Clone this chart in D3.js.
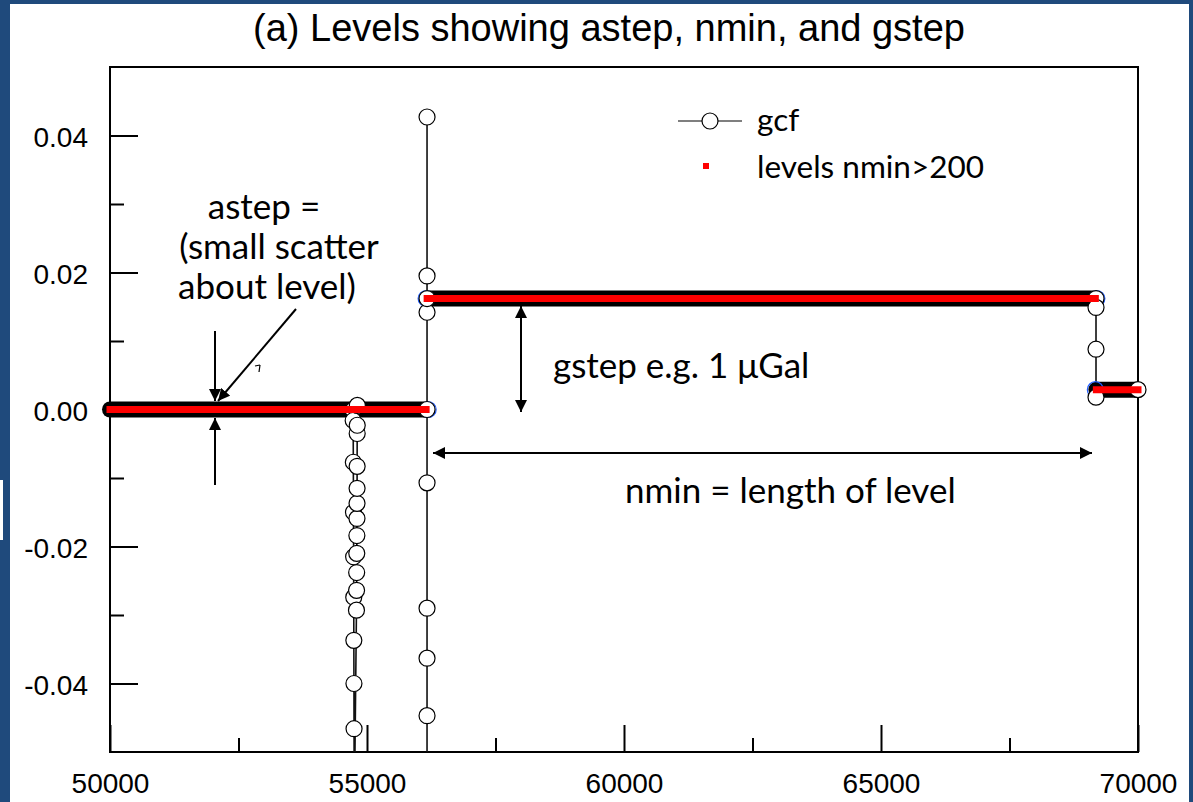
<!DOCTYPE html>
<html>
<head>
<meta charset="utf-8">
<script src="https://cdn.jsdelivr.net/npm/d3@7.9.0/dist/d3.min.js"></script>
<style>
  body { margin: 0; background: #fff; }
  svg { display: block; }
  .axis text { font-family: "Liberation Sans", Arial, sans-serif; font-size: 28px; fill: #000; }
  .note { font-family: Lato, "Open Sans", sans-serif; font-size: 35px; fill: #000; }
  .legend-text { font-family: Lato, "Open Sans", sans-serif; font-size: 31.5px; fill: #000; }
</style>
</head>
<body>
<svg id="chart" width="1193" height="802"></svg>
<script>
// ---- data ----
// gcf samples around the steps (the long flat parts are drawn as the dense band below)
const gcfX = [
  54728, 54731, 54734, 54737, 54740, 54742, 54744, 54746, 54748, 54752,
  54795, 54797, 54799, 54801, 54803, 54805, 54806, 54807, 54808, 54809, 54810, 54812,
  56168, 56168, 56168, 56168, 56168, 56168, 56168, 56168, 56168, 56168,
  69183, 69183, 69183, 69183,
  70000];
const gcfY = [
  -0.0001, -0.0016, -0.0077, -0.0150, -0.0215, -0.0274, -0.0337, -0.0400, -0.0466, -0.0600,
  -0.0293, -0.0264, -0.0238, -0.0210, -0.0184, -0.0159, -0.0137, -0.0115, -0.0083, -0.0035, -0.0023, 0.0006,
  0, -0.0107, -0.0290, -0.0363, -0.0447, -0.0620, 0.0427, 0.0195, 0.0142, 0.0162,
  0.0162, 0.0149, 0.0088, 0.0018,
  0.0029];

// levels found with nmin>200
const levelStart = [50000, 56170, 69190];
const levelEnd = [56150, 69170, 70000];
const levelValue = [0, 0.0162, 0.0029];

// level end points (blue markers peeking out at the steps)
const levelMarkX = [56190, 56150, 69200, 69170];
const levelMarkY = [0, 0.0162, 0.0162, 0.0029];

const xMajor = [50000, 55000, 60000, 65000, 70000];
const xMinor = [52500, 57500, 62500, 67500];
const yMajor = [-0.04, -0.02, 0, 0.02, 0.04];
const yMinor = [-0.03, -0.01, 0.01, 0.03];

const gcf = gcfX.map((x, i) => ({ x: x, y: gcfY[i] }));
const levels = levelStart.map((s, i) => ({ start: s, end: levelEnd[i], value: levelValue[i] }));

// ---- layout ----
const svg = d3.select("#chart");
const pLeft = 110, pRight = 1138, pTop = 67, pBottom = 752;

// blue slide frame
svg.append("rect").attr("x", 0).attr("y", 0).attr("width", 1193).attr("height", 4).attr("fill", "#1f4a7c");
svg.append("rect").attr("x", 0).attr("y", 0).attr("width", 10).attr("height", 802).attr("fill", "#1f4a7c");
svg.append("rect").attr("x", 1189).attr("y", 0).attr("width", 4).attr("height", 802).attr("fill", "#1f4a7c");
svg.append("rect").attr("x", 0).attr("y", 480).attr("width", 3).attr("height", 60).attr("fill", "#fff");

let x = d3.scaleLinear().domain([50000, 70000]).range([pLeft, pRight]);
let y = d3.scaleLinear().domain([-0.05, 0.05]).range([pBottom, pTop]);

svg.append("clipPath").attr("id", "plot-clip")
  .append("rect").attr("x", pLeft).attr("y", pTop).attr("width", pRight - pLeft).attr("height", pBottom - pTop);

// title
svg.append("text")
  .attr("x", 609).attr("y", 41)
  .attr("text-anchor", "middle")
  .attr("font-family", "Liberation Sans, Arial, sans-serif")
  .attr("font-size", 38)
  .text("(a) Levels showing astep, nmin, and gstep");

// axes (ticks point inward)
let xAxis = svg.append("g").attr("class", "axis").attr("transform", `translate(0,${pBottom})`)
  .call(d3.axisBottom(x).tickValues(xMajor).tickSize(-27).tickPadding(21).tickFormat(d3.format("d")));
let xAxisMinor = svg.append("g").attr("class", "axis").attr("transform", `translate(0,${pBottom})`)
  .call(d3.axisBottom(x).tickValues(xMinor).tickSize(-14).tickFormat(""));
let yAxis = svg.append("g").attr("class", "axis").attr("transform", `translate(${pLeft},0)`)
  .call(d3.axisLeft(y).tickValues(yMajor).tickSize(-28).tickPadding(22).tickFormat((d) => d.toFixed(2)));
let yAxisMinor = svg.append("g").attr("class", "axis").attr("transform", `translate(${pLeft},0)`)
  .call(d3.axisLeft(y).tickValues(yMinor).tickSize(-14).tickFormat(""));

svg.selectAll(".axis .domain").remove();
svg.selectAll(".axis .tick line").attr("stroke", "#000").attr("stroke-width", 2);
yAxis.selectAll("text").attr("dy", "0.38em");

// plot frame
svg.append("rect")
  .attr("x", pLeft).attr("y", pTop).attr("width", pRight - pLeft).attr("height", pBottom - pTop)
  .attr("fill", "none").attr("stroke", "#000").attr("stroke-width", 2);

// gcf line (clipped: some samples fall below -0.05)
let line = d3.line().x((d) => x(d.x)).y((d) => y(d.y));
svg.append("g").attr("clip-path", "url(#plot-clip)")
  .append("path").datum(gcf)
  .attr("d", line)
  .attr("fill", "none").attr("stroke", "#111").attr("stroke-width", 1.6);

let plot = svg.append("g");
const inView = gcf.filter((d) => d.y >= -0.05 && d.y <= 0.05);

// dense gcf samples along each level -> thick black band
plot.selectAll(".band").data(levels).join("line")
  .attr("class", "band")
  .attr("x1", (d) => x(d.start)).attr("x2", (d) => x(d.end))
  .attr("y1", (d) => y(d.value)).attr("y2", (d) => y(d.value))
  .attr("stroke", "#000").attr("stroke-width", 16).attr("stroke-linecap", "round");

// blue level end markers
plot.selectAll(".mark").data(levelMarkX).join("circle")
  .attr("class", "mark")
  .attr("cx", (d) => x(d)).attr("cy", (d, i) => y(levelMarkY[i]))
  .attr("r", 8).attr("fill", "none").attr("stroke", "#1f5cff").attr("stroke-width", 1.2);

// gcf markers
plot.selectAll(".pt").data(inView).join("circle")
  .attr("class", "pt")
  .attr("cx", (d) => x(d.x)).attr("cy", (d) => y(d.y))
  .attr("r", 8).attr("fill", "#fff").attr("stroke", "#000").attr("stroke-width", 1.2);

// red levels on top
plot.selectAll(".level").data(levels).join("line")
  .attr("class", "level")
  .attr("x1", (d) => x(d.start)).attr("x2", (d) => x(d.end))
  .attr("y1", (d) => y(d.value)).attr("y2", (d) => y(d.value))
  .attr("stroke", "#ff0000").attr("stroke-width", 7).attr("stroke-linecap", "square");

// ---- legend ----
let legend = svg.append("g");
legend.append("line").attr("x1", 678).attr("x2", 742).attr("y1", 121).attr("y2", 121)
  .attr("stroke", "#000").attr("stroke-width", 1.2);
legend.append("circle").attr("cx", 710).attr("cy", 121).attr("r", 8)
  .attr("fill", "#fff").attr("stroke", "#000").attr("stroke-width", 1.2);
legend.append("text").attr("class", "legend-text").attr("x", 757).attr("y", 131).text("gcf");
legend.append("rect").attr("x", 703).attr("y", 163).attr("width", 6).attr("height", 6).attr("fill", "#ff0000");
legend.append("text").attr("class", "legend-text").attr("x", 757).attr("y", 178).text("levels nmin>200");

// ---- annotations ----
let defs = svg.append("defs");
defs.append("marker").attr("id", "head")
  .attr("viewBox", "0 0 10 10").attr("refX", 10).attr("refY", 5)
  .attr("markerWidth", 6).attr("markerHeight", 6)
  .attr("markerUnits", "strokeWidth")
  .attr("orient", "auto-start-reverse")
  .append("path").attr("d", "M0,0 L10,5 L0,10 Z").attr("fill", "#000");

let notes = svg.append("g");
const arrow = (x1, y1, x2, y2, both) => {
  let l = notes.append("line")
    .attr("x1", x1).attr("y1", y1).attr("x2", x2).attr("y2", y2)
    .attr("stroke", "#000").attr("stroke-width", 2)
    .attr("marker-end", "url(#head)");
  if (both) l.attr("marker-start", "url(#head)");
};

arrow(215, 331, 215, 401);
arrow(215, 485, 215, 418);
arrow(296, 309, 218, 401);
notes.append("line").attr("x1", 255).attr("y1", 366).attr("x2", 260).attr("y2", 365)
  .attr("stroke", "#000").attr("stroke-width", 1.2);
notes.append("line").attr("x1", 260).attr("y1", 365).attr("x2", 259).attr("y2", 372)
  .attr("stroke", "#000").attr("stroke-width", 1.2);
arrow(521, 306, 521, 412, true);
arrow(433, 453, 1092, 453, true);

const noteText = (tx, ty, s, anchor) => notes.append("text").attr("class", "note")
  .attr("x", tx).attr("y", ty).attr("text-anchor", anchor || "start").text(s);
noteText(264, 219, "astep =", "middle");
noteText(279, 259, "(small scatter", "middle");
noteText(267, 299, "about level)", "middle");
noteText(553, 378, "gstep e.g. 1 \u03bcGal");
noteText(625, 503, "nmin = length of level");
</script>
</body>
</html>
